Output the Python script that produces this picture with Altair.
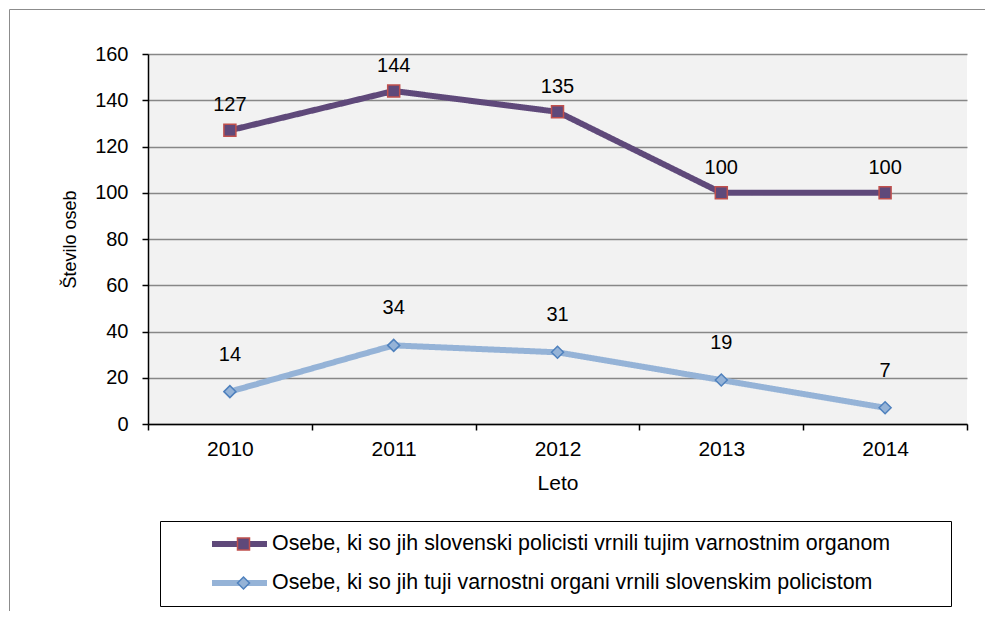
import altair as alt
import pandas as pd

years = ["2010", "2011", "2012", "2013", "2014"]
series_names = [
    "Osebe, ki so jih slovenski policisti vrnili tujim varnostnim organom",
    "Osebe, ki so jih tuji varnostni organi vrnili slovenskim policistom",
]
returned_by_slovenian = [127, 144, 135, 100, 100]
returned_by_foreign = [14, 34, 31, 19, 7]

rows = []
for name, vals in zip(series_names, [returned_by_slovenian, returned_by_foreign]):
    for y, v in zip(years, vals):
        rows.append({"year": y, "value": v, "series": name})
df = pd.DataFrame(rows)

FONT = "Liberation Sans"
line_colors = ["#5F497A", "#95B3D7"]
fill_colors = ["#5F497A", "#95B3D7"]
edge_colors = ["#C0504D", "#4F81BD"]

x_enc = alt.X(
    "year:N",
    title="Leto",
    scale=alt.Scale(type="band", paddingInner=0, paddingOuter=0),
    axis=alt.Axis(
        labelAngle=0, tickBand="extent", domainColor="black", domainWidth=1.5,
        tickColor="black", tickSize=6, tickWidth=1.5, labelPadding=8,
        labelFontSize=21, titleFontSize=21,
        titleY=59, titleBaseline="middle", grid=False,
    ),
)
y_enc = alt.Y(
    "value:Q",
    title="Število oseb",
    scale=alt.Scale(domain=[0, 160], nice=False),
    axis=alt.Axis(
        values=[0, 20, 40, 60, 80, 100, 120, 140, 160], domainColor="black",
        domainWidth=1.5, tickColor="black", tickSize=6, tickWidth=1.5,
        labelPadding=14, gridColor="#878787", gridWidth=1.5,
        titleX=-78, titleY=185, titleBaseline="middle", titleFontSize=18,
    ),
)

base = alt.Chart(df)

# outer chart frame (a legend box with invisible content)
frame_legend = alt.Legend(
    orient="none", legendX=-139, legendY=-45, title=None,
    symbolType="stroke", symbolSize=990 * 990, symbolStrokeWidth=1,
    symbolOpacity=0, clipHeight=610, padding=0, labelOffset=0,
    labelExpr="''", strokeColor="#8C8C8C",
)

lines = base.transform_calculate(frame="'frame'").mark_line(
    strokeWidth=6, strokeJoin="round"
).encode(
    x=x_enc, y=y_enc,
    color=alt.Color(
        "series:N",
        scale=alt.Scale(range=line_colors),
        legend=alt.Legend(
            orient="none", legendX=12, legendY=467, title=None,
            symbolType="stroke", symbolSize=3025, symbolStrokeWidth=6,
            symbolOffset=37, labelOffset=2, padding=12, rowPadding=17,
            clipHeight=22,
            fillColor="white", labelLimit=1200,
            labelFontSize=21.4, labelFont=FONT, labelColor="black",
        ),
    ),
    strokeDash=alt.StrokeDash("frame:N", scale=alt.Scale(range=[[1, 0]]), legend=frame_legend),
)

# marker legend drawn on top; it also carries the legend frame
marker_legend = alt.Legend(
    orient="none", legendX=12, legendY=467, title=None,
    symbolSize=144, symbolStrokeWidth=1.5, symbolOpacity=1,
    symbolOffset=61, labelOffset=679, padding=12, rowPadding=17,
    clipHeight=22, labelExpr="'.'", labelOpacity=0,
    strokeColor="black",
    labelLimit=900, labelFontSize=21, labelFont=FONT,
)

points = base.transform_calculate(series_m="datum.series").mark_point(
    size=144, strokeWidth=1.5, opacity=1
).encode(
    x=x_enc, y=y_enc,
    shape=alt.Shape("series_m:N", scale=alt.Scale(range=["square", "diamond"]), legend=marker_legend),
    fill=alt.Fill("series_m:N", scale=alt.Scale(range=fill_colors), legend=marker_legend),
    stroke=alt.Stroke("series_m:N", scale=alt.Scale(range=edge_colors), legend=marker_legend),
)

labels1 = base.transform_filter(alt.datum.series == series_names[0]).mark_text(
    dy=-25, fontSize=20, font=FONT, color="black", baseline="middle"
).encode(x=x_enc, y=y_enc, text="value:Q")

labels2 = base.transform_filter(alt.datum.series == series_names[1]).mark_text(
    dy=-37, fontSize=20, font=FONT, color="black", baseline="middle"
).encode(x=x_enc, y=y_enc, text="value:Q")

chart = alt.layer(lines, points, labels1, labels2).properties(
    width=819, height=370,
    autosize=alt.AutoSizeParams(type="none"),
    padding={"left": 140, "top": 46, "right": 18, "bottom": 187},
    background="white",
).configure_view(fill="#F2F2F2", stroke=None).configure_axis(
    labelFont=FONT, labelFontSize=20, labelColor="black",
    titleFont=FONT, titleFontSize=20, titleColor="black", titleFontWeight="normal",
).configure_axisX(grid=False)

chart.save("out.html", embed_options={"renderer": "svg", "actions": False})
